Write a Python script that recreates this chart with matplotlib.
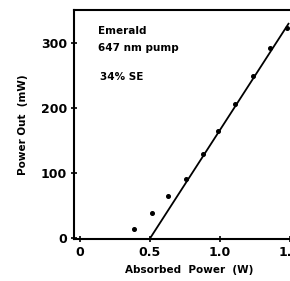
import matplotlib
matplotlib.use("Agg")
import matplotlib.pyplot as plt
import numpy as np

# measured points (absorbed power W, output power mW)
absorbed = [0.39, 0.52, 0.63, 0.76, 0.88, 0.99, 1.11, 1.24, 1.36, 1.48]
power_out = [14, 38, 65, 90, 129, 165, 206, 249, 292, 324]

# linear fit line end points
fit_x = [0.505, 1.49]
fit_y = [0, 330]

x_ticks = [0, 0.5, 1.0, 1.5]
x_labels = ["0", "0.5", "1.0", "1.5"]
y_ticks = [0, 100, 200, 300]
y_labels = ["0", "100", "200", "300"]

fig = plt.figure(figsize=(2.90, 2.81), dpi=100)
fig.patch.set_facecolor("white")
# axes deliberately runs past the right edge (reference is cropped)
ax = fig.add_axes([0.255, 0.149, 0.793, 0.815])

ax.plot(fit_x, fit_y, color="black", linewidth=1.3)
ax.plot(absorbed, power_out, "o", color="black", markersize=2.6)

ax.set_xlim(-0.04, 1.6)
ax.set_ylim(-2, 351)

ax.set_xticks(x_ticks)
ax.set_xticklabels(x_labels)
ax.set_yticks(y_ticks)
ax.set_yticklabels(y_labels)
for spine in ax.spines.values():
    spine.set_linewidth(1.5)
ax.tick_params(axis="both", direction="inout", length=4, width=1.2,
               labelsize=9)
ax.tick_params(axis="x", pad=3)
ax.tick_params(axis="y", pad=3)
for lbl in ax.get_xticklabels() + ax.get_yticklabels():
    lbl.set_fontweight("bold")

ax.set_xlabel("Absorbed  Power  (W)", fontsize=7.5, fontweight="bold",
              labelpad=4)
ax.set_ylabel("Power Out  (mW)", fontsize=7.5, fontweight="bold",
              labelpad=9)

ax.text(0.105, 0.93, "Emerald", transform=ax.transAxes, fontsize=7.5,
        fontweight="bold", va="top")
ax.text(0.105, 0.855, "647 nm pump", transform=ax.transAxes, fontsize=7.5,
        fontweight="bold", va="top")
ax.text(0.115, 0.73, "34% SE", transform=ax.transAxes, fontsize=7.5,
        fontweight="bold", va="top")

plt.savefig("out.png", dpi=100, facecolor="white")
plt.close()
